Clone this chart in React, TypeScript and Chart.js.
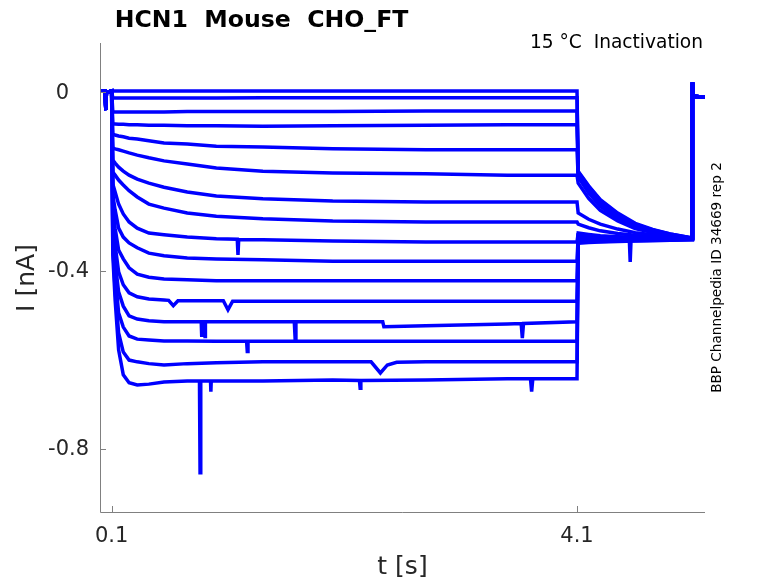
import React, { useEffect, useRef } from "react";
import { Chart, registerables } from "chart.js";

Chart.register(...registerables);

// ---------- data ----------
const X_MIN = 0;
const X_MAX = 5.2;
const Y_MIN = -0.942;
const Y_MAX = 0.1106;

const X_TICKS = [0.1, 4.1];
const X_TICK_LABELS = ["0.1", "4.1"];
const Y_TICKS = [0, -0.4, -0.8];
const Y_TICK_LABELS = ["0", "-0.4", "-0.8"];

// holding phase (shared by all sweeps)
const PRE_T = [0, 0.045, 0.05, 0.055, 0.1];
const PRE_I = [0.003, 0.003, -0.04, 0.0, 0.003];

// conditioning step 0.1 .. 4.1 s
const STEP_T = [0.11, 0.13, 0.16, 0.2, 0.25, 0.32, 0.42, 0.55, 0.75, 1.0, 1.4, 2.0, 2.8, 3.5, 4.1];
const STEP_I = [
  [0.003, 0.003, 0.003, 0.003, 0.003, 0.003, 0.003, 0.003, 0.003, 0.003, 0.003, 0.003, 0.003, 0.003, 0.003],
  [-0.013, -0.013, -0.013, -0.013, -0.013, -0.013, -0.013, -0.013, -0.013, -0.013, -0.012, -0.012, -0.012, -0.012, -0.012],
  [-0.044, -0.044, -0.044, -0.044, -0.044, -0.044, -0.044, -0.044, -0.043, -0.043, -0.043, -0.043, -0.042, -0.042, -0.042],
  [-0.071, -0.071, -0.072, -0.072, -0.073, -0.073, -0.074, -0.074, -0.075, -0.075, -0.076, -0.075, -0.074, -0.073, -0.073],
  [-0.094, -0.096, -0.098, -0.1, -0.103, -0.105, -0.109, -0.114, -0.116, -0.121, -0.123, -0.127, -0.129, -0.129, -0.129],
  [-0.125, -0.127, -0.129, -0.132, -0.136, -0.141, -0.147, -0.154, -0.161, -0.17, -0.177, -0.181, -0.183, -0.186, -0.186],
  [-0.152, -0.159, -0.168, -0.177, -0.186, -0.195, -0.204, -0.213, -0.224, -0.233, -0.239, -0.244, -0.246, -0.246, -0.246],
  [-0.179, -0.186, -0.197, -0.208, -0.221, -0.235, -0.251, -0.26, -0.271, -0.278, -0.284, -0.289, -0.291, -0.291, -0.291],
  [-0.206, -0.224, -0.251, -0.273, -0.291, -0.305, -0.316, -0.32, -0.325, -0.329, -0.331, -0.334, -0.336, -0.336, -0.336],
  [-0.23, -0.264, -0.305, -0.325, -0.338, -0.349, -0.361, -0.367, -0.372, -0.374, -0.376, -0.379, -0.379, -0.379, -0.379],
  [-0.253, -0.305, -0.354, -0.374, -0.394, -0.408, -0.415, -0.419, -0.421, -0.423, -0.423, -0.423, -0.423, -0.423, -0.423],
  [-0.275, -0.343, -0.403, -0.432, -0.45, -0.459, -0.464, -0.466, -0.468, -0.468, -0.469, -0.469, -0.469, -0.469, -0.469],
  [-0.298, -0.381, -0.448, -0.48, -0.502, -0.509, -0.513, -0.515, -0.515, -0.515, -0.515, -0.515, -0.524, -0.52, -0.515],
  [-0.32, -0.41, -0.495, -0.527, -0.547, -0.554, -0.556, -0.558, -0.558, -0.559, -0.559, -0.559, -0.559, -0.559, -0.559],
  [-0.343, -0.444, -0.54, -0.583, -0.601, -0.605, -0.609, -0.612, -0.609, -0.607, -0.605, -0.605, -0.605, -0.605, -0.605],
  [-0.365, -0.466, -0.578, -0.634, -0.652, -0.657, -0.655, -0.65, -0.648, -0.648, -0.648, -0.646, -0.646, -0.643, -0.643],
];

// test pulse 4.1 .. 5.09 s
const TAIL_T = [4.11, 4.2, 4.3, 4.45, 4.6, 4.75, 4.9, 5.09];
const TAIL_I = [
  [-0.177, -0.21, -0.241, -0.271, -0.294, -0.308, -0.318, -0.327],
  [-0.179, -0.212, -0.243, -0.273, -0.296, -0.309, -0.318, -0.327],
  [-0.181, -0.215, -0.246, -0.275, -0.297, -0.31, -0.319, -0.328],
  [-0.184, -0.218, -0.249, -0.278, -0.299, -0.311, -0.32, -0.328],
  [-0.19, -0.226, -0.256, -0.283, -0.302, -0.313, -0.321, -0.328],
  [-0.204, -0.238, -0.265, -0.289, -0.306, -0.315, -0.322, -0.328],
  [-0.271, -0.285, -0.296, -0.307, -0.315, -0.32, -0.323, -0.327],
  [-0.296, -0.304, -0.311, -0.317, -0.321, -0.324, -0.326, -0.327],
  [-0.316, -0.319, -0.322, -0.324, -0.326, -0.327, -0.327, -0.328],
  [-0.322, -0.324, -0.325, -0.326, -0.327, -0.327, -0.328, -0.328],
  [-0.32, -0.322, -0.324, -0.325, -0.326, -0.327, -0.327, -0.327],
  [-0.326, -0.327, -0.327, -0.328, -0.328, -0.328, -0.328, -0.329],
  [-0.333, -0.333, -0.333, -0.332, -0.332, -0.331, -0.33, -0.33],
  [-0.339, -0.337, -0.336, -0.335, -0.334, -0.333, -0.332, -0.331],
  [-0.33, -0.331, -0.332, -0.331, -0.331, -0.33, -0.33, -0.33],
  [-0.336, -0.334, -0.335, -0.334, -0.333, -0.332, -0.332, -0.331],
];

// return to holding (shared)
const POST_T = [5.092, 5.1, 5.2];
const POST_I = [0.022, -0.009, -0.011];

// isolated glitches / notches seen on single sweeps (sweep number, t, I)
const EXTRA_TRACE = [16, 16, 16, 16, 16, 16, 16, 16, 16, 16, 16, 16, 16, 16, 16,
  15, 15, 15, 15,
  13, 13, 13, 13, 13, 13, 13, 13, 13, 13, 13, 13, 13, 13,
  12, 12, 12, 12, 12, 12,
  9, 9, 9,
  14, 14, 14];
const EXTRA_T = [0.855, 0.86, 0.866, 0.95, 0.953, 0.956, 2.23, 2.236, 2.242, 3.7, 3.71, 3.72, 4.55, 4.557, 4.564,
  2.33, 2.41, 2.47, 2.55,
  0.87, 0.873, 0.876, 0.9, 0.903, 0.906, 1.67, 1.677, 1.684, 2.43, 2.44, 3.62, 3.63, 3.64,
  0.59, 0.63, 0.67, 1.06, 1.1, 1.14,
  1.18, 1.186, 1.192,
  1.26, 1.266, 1.272];
const EXTRA_I = [-0.648, -0.854, -0.648, -0.648, -0.672, -0.648, -0.647, -0.664, -0.647, -0.643, -0.672, -0.643, -0.333, -0.381, -0.333,
  -0.605, -0.63, -0.612, -0.606,
  -0.515, -0.549, -0.515, -0.515, -0.548, -0.515, -0.515, -0.552, -0.515, -0.515, -0.526, -0.519, -0.552, -0.519,
  -0.467, -0.479, -0.468, -0.468, -0.488, -0.469,
  -0.33, -0.365, -0.331,
  -0.559, -0.582, -0.559];

// ---------- styling ----------
const TRACE_COLOR = "#0000ff";
const AXIS_COLOR = "#808080";
const TEXT_COLOR = "#262626";
const FONT = "'DejaVu Sans', sans-serif";

function buildTrace(k: number) {
  const pts: { x: number; y: number }[] = [];
  PRE_T.forEach((t, i) => pts.push({ x: t, y: PRE_I[i] }));
  STEP_T.forEach((t, i) => pts.push({ x: t, y: STEP_I[k][i] }));
  TAIL_T.forEach((t, i) => pts.push({ x: t, y: TAIL_I[k][i] }));
  POST_T.forEach((t, i) => pts.push({ x: t, y: POST_I[i] }));
  EXTRA_TRACE.forEach((tr, i) => {
    if (tr === k + 1) pts.push({ x: EXTRA_T[i], y: EXTRA_I[i] });
  });
  pts.sort((a, b) => a.x - b.x);
  return pts;
}

const decorPlugin = {
  id: "decor",
  afterDraw(chart: any) {
    const { ctx, chartArea: a, scales } = chart;
    const xs = scales.x;
    const ys = scales.y;
    ctx.save();
    // axes (left + bottom only)
    ctx.strokeStyle = AXIS_COLOR;
    ctx.lineWidth = 1;
    ctx.beginPath();
    ctx.moveTo(a.left + 0.5, a.top);
    ctx.lineTo(a.left + 0.5, a.bottom + 0.5);
    ctx.lineTo(a.right, a.bottom + 0.5);
    X_TICKS.forEach((v) => {
      const px = Math.round(xs.getPixelForValue(v)) + 0.5;
      ctx.moveTo(px, a.bottom);
      ctx.lineTo(px, a.bottom - 6);
    });
    Y_TICKS.forEach((v) => {
      const py = Math.round(ys.getPixelForValue(v)) + 0.5;
      ctx.moveTo(a.left, py);
      ctx.lineTo(a.left + 6, py);
    });
    ctx.stroke();

    ctx.fillStyle = TEXT_COLOR;
    // x tick labels
    ctx.font = `21px ${FONT}`;
    ctx.textAlign = "center";
    ctx.textBaseline = "middle";
    X_TICKS.forEach((v, i) => {
      ctx.fillText(X_TICK_LABELS[i], xs.getPixelForValue(v), a.bottom + 25);
    });
    // y tick labels, aligned on the decimal point
    const decX = a.left - 31;
    ctx.textAlign = "left";
    Y_TICKS.forEach((v, i) => {
      const lab = Y_TICK_LABELS[i];
      const intPart = lab.split(".")[0];
      const w = ctx.measureText(intPart).width;
      ctx.fillText(lab, decX - w, ys.getPixelForValue(v) + 1);
    });
    // axis titles
    ctx.font = `25px ${FONT}`;
    ctx.textAlign = "center";
    ctx.textBaseline = "middle";
    ctx.fillText("t [s]", (a.left + a.right) / 2, a.bottom + 55);
    ctx.save();
    ctx.translate(27.5, 278);
    ctx.rotate(-Math.PI / 2);
    ctx.fillText("I [nA]", 0, 0);
    ctx.restore();
    // title
    ctx.fillStyle = "#000000";
    ctx.font = `bold 23.6px ${FONT}`;
    ctx.textAlign = "center";
    ctx.textBaseline = "alphabetic";
    ctx.fillText("HCN1  Mouse  CHO_FT", 261.5, 27);
    // annotation top right
    ctx.font = `18.6px ${FONT}`;
    ctx.textAlign = "right";
    ctx.fillText("15 °C  Inactivation", 703, 47.5);
    // vertical note at right
    ctx.save();
    ctx.font = `13.6px ${FONT}`;
    ctx.translate(717, 277.5);
    ctx.rotate(-Math.PI / 2);
    ctx.textAlign = "center";
    ctx.textBaseline = "middle";
    ctx.fillText("BBP Channelpedia ID 34669 rep 2", 0, 0);
    ctx.restore();
    ctx.restore();
  },
};

export default function App() {
  const ref = useRef<HTMLCanvasElement | null>(null);
  useEffect(() => {
    if (!ref.current) return;
    const datasets = STEP_I.map((_, k) => ({
      label: `sweep ${k + 1}`,
      data: buildTrace(k),
      borderColor: TRACE_COLOR,
      backgroundColor: TRACE_COLOR,
      borderWidth: 3.5,
      pointRadius: 0,
      fill: false,
      tension: 0,
    }));
    const chart = new Chart(ref.current, {
      type: "line",
      data: { datasets },
      options: {
        animation: false,
        responsive: false,
        maintainAspectRatio: false,
        layout: { padding: { top: 43, right: 73, left: 0, bottom: 0 } },
        plugins: {
          legend: { display: false },
          tooltip: { enabled: false },
          title: { display: false },
        },
        scales: {
          x: {
            type: "linear",
            min: X_MIN,
            max: X_MAX,
            grid: { display: false },
            border: { display: false },
            ticks: { display: false },
            afterFit: (s: any) => {
              s.height = 71;
            },
          },
          y: {
            type: "linear",
            min: Y_MIN,
            max: Y_MAX,
            grid: { display: false },
            border: { display: false },
            ticks: { display: false },
            afterFit: (s: any) => {
              s.width = 100;
            },
          },
        },
      } as any,
      plugins: [decorPlugin],
    });
    return () => chart.destroy();
  }, []);
  return (
    <div style={{ position: "absolute", left: 0, top: 0, width: 778, height: 583, background: "#fff" }}>
      <canvas ref={ref} width={778} height={583} style={{ width: 778, height: 583, display: "block" }} />
    </div>
  );
}
